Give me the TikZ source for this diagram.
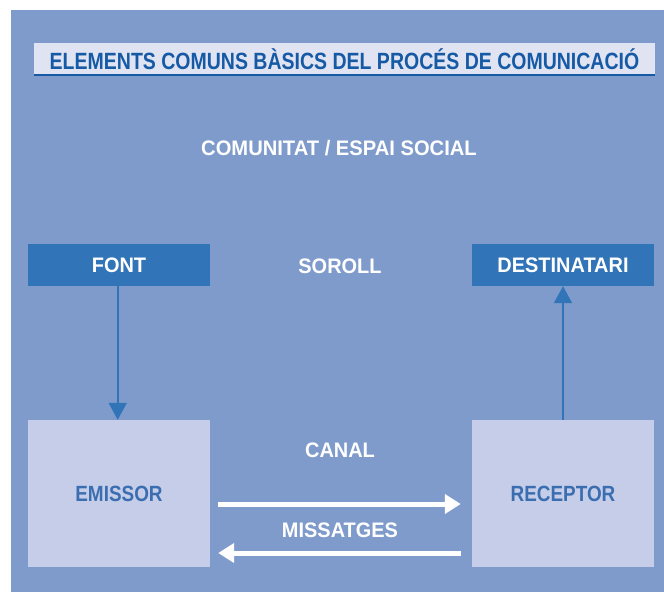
\documentclass[tikz,border=0pt]{standalone}
\usepackage{fontspec}
\setmainfont{Liberation Sans}
\usetikzlibrary{arrows.meta}
\definecolor{panel}{RGB}{127,155,203}
\definecolor{darkbox}{RGB}{50,116,184}
\definecolor{lightbox}{RGB}{197,205,232}
\definecolor{titlefill}{RGB}{224,228,242}
\definecolor{titletext}{RGB}{22,90,165}
\definecolor{boxtext}{RGB}{58,110,176}
\newcommand\sq[2]{\scalebox{#1}[1]{#2}}
\tikzset{
  darknode/.style={fill=darkbox, text=white, minimum width=182pt, minimum height=42pt, inner sep=0pt, font=\fontsize{21}{21}\selectfont\bfseries},
  lightnode/.style={fill=lightbox, text=boxtext, minimum width=182pt, minimum height=147pt, inner sep=0pt, font=\fontsize{22}{22}\selectfont\bfseries},
  whitelabel/.style={text=white, inner sep=0pt, font=\fontsize{21}{21}\selectfont\bfseries},
  bluearrow/.style={draw=darkbox, line width=2pt, -{Triangle[width=18pt,length=17pt]}},
  whitearrow/.style={draw=white, line width=5pt, -{Triangle[width=19pt,length=16pt]}}
}
\begin{document}
\begin{tikzpicture}[x=1pt,y=-1pt]
\useasboundingbox (0,0) rectangle (664,592);
\fill[panel] (11,10) rectangle (664,592);
\node[fill=titlefill, minimum width=621pt, minimum height=32pt, inner sep=0pt, text=titletext, font=\fontsize{23.5}{23.5}\selectfont\bfseries] (title) at (344.5,59) {\sq{0.83}{ELEMENTS COMUNS BÀSICS DEL PROCÉS DE COMUNICACIÓ}};
\draw[titletext, line width=2pt] (title.south west) -- (title.south east);
\node[whitelabel] (comunitat) at (339,148) {\sq{0.96}{COMUNITAT / ESPAI SOCIAL}};
\node[darknode] (font) at (119,265) {\sq{0.95}{FONT}};
\node[darknode] (dest) at (563,265) {\sq{0.95}{DESTINATARI}};
\node[whitelabel] (soroll) at (340,266) {\sq{0.95}{SOROLL}};
\node[lightnode] (emissor) at (119,493.5) {\sq{0.86}{EMISSOR}};
\node[lightnode] (receptor) at (563,493.5) {\sq{0.86}{RECEPTOR}};
\node[whitelabel] (canal) at (340,450) {\sq{0.95}{CANAL}};
\node[whitelabel] (missatges) at (340,530) {\sq{0.95}{MISSATGES}};
\draw[bluearrow] (font.south -| 117.7,0) -- (emissor.north -| 117.7,0);
\draw[bluearrow] (receptor.north -| 563,0) -- (dest.south -| 563,0);
\draw[whitearrow] ([xshift=8pt,yshift=-10.5pt]emissor.east) -- ([xshift=-11pt,yshift=-10.5pt]receptor.west);
\draw[whitearrow] ([xshift=-11pt,yshift=-59.5pt]receptor.west) -- ([xshift=8pt,yshift=-59.5pt]emissor.east);
\end{tikzpicture}
\end{document}
